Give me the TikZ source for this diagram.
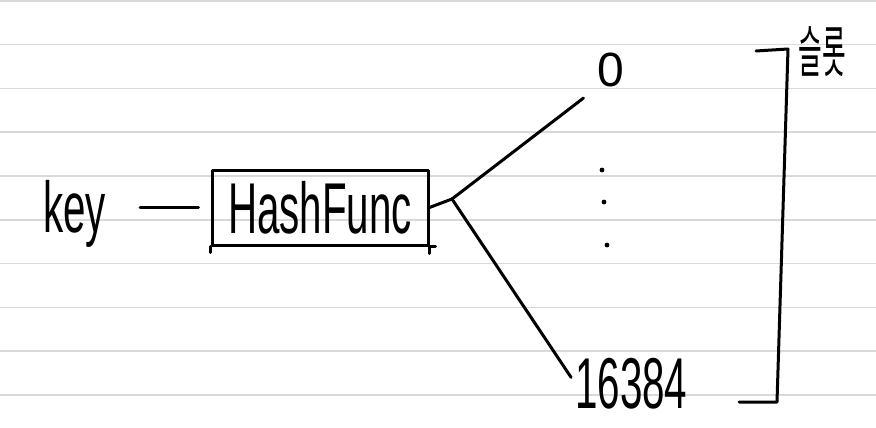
\documentclass[tikz,border=0pt]{standalone}
\usepackage{fontspec}
\usepackage{graphicx}
\setmainfont{Liberation Sans}
\newfontfamily\krfont{Noto Sans CJK KR}
\tikzset{
  ink/.style={line width=3pt, color=black},
  ruled/.style={line width=1.6pt, color=gray!30},
  hand/.style={inner sep=0pt, font=\fontsize{72}{72}\selectfont},
  hashbox/.style={ink, draw, inner sep=0pt, minimum width=216pt, minimum height=75pt,
    font=\fontsize{72}{72}\selectfont},
}
\begin{document}
\begin{tikzpicture}[x=1pt, y=-1pt, line cap=round, line join=round]
    % page and ruled lines
    \fill[white] (0,0) rectangle (876,428);
    \useasboundingbox (0,0) rectangle (876,428);
    \foreach \i in {0,...,9}
        \draw[ruled] (0,{\i*43.8+0.8}) -- (876,{\i*43.8+0.8});
    % key and hash function
    \node[hand, anchor=base west] (key) at (43,232) {\scalebox{.56}[1]{key}};
    \node[hashbox] (hash) at (320,207.5) {\scalebox{.56}[1]{HashFunc}};
    \draw[ink] (hash.south west) -- ++(0,6);
    \draw[ink] (hash.south east) -- ++(0,7);
    \draw[ink] (hash.south east) -- ++(6,0);
    \draw[ink, shorten <=34pt, shorten >=12pt] (key.east |- hash.west) -- (hash.west);
    % slots
    \node[anchor=base west, inner sep=0pt, font=\fontsize{48}{48}\selectfont] (zero) at (597,87) {0};
    \node[hand, anchor=base west] (last) at (575,408) {\scalebox{.56}[1]{16384}};
    \foreach \x/\y in {602/170, 604/202, 607/245}
        \fill (\x,\y) circle (2.4pt);
    % fan out of the hash
    \coordinate (fork) at (452,199);
    \draw[ink] (hash.east) -- (fork);
    \draw[ink, shorten >=17pt] (fork) -- (zero.south west);
    \draw[ink, shorten >=7pt] (fork) -- (last.west);
    % bracket over all slots
    \draw[ink] (756,51) -- (788,49) -- (777,402) -- (739,402);
    \node[inner sep=0pt, font=\krfont\fontsize{56}{56}\selectfont] (slot) at (822,52) {\scalebox{.46}[1]{슬롯}};
\end{tikzpicture}
\end{document}
